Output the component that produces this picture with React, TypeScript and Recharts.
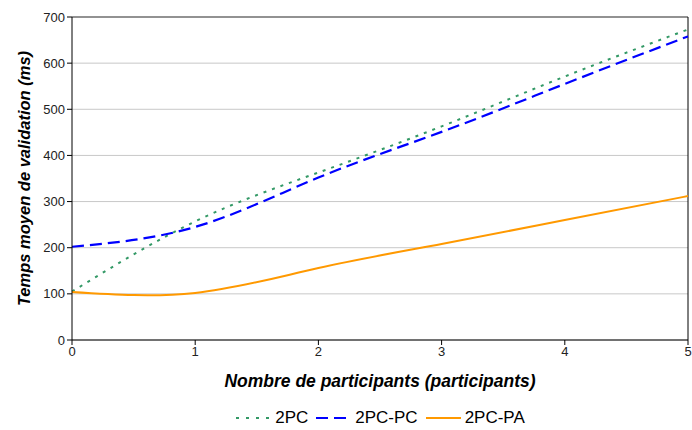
import React from 'react';
import { LineChart, Line, XAxis, YAxis, CartesianGrid, Legend, ReferenceLine } from 'recharts';

const participants = [0, 1, 2, 3, 4, 5];
const series2PC = [105, 257, 363, 463, 571, 673];
const series2PCPC = [202, 245, 352, 451, 555, 658];
const series2PCPA = [104, 102, 156, 208, 260, 312];
const xTicks = [0, 1, 2, 3, 4, 5];
const yTicks = [0, 100, 200, 300, 400, 500, 600, 700];
const seriesNames = ['2PC', '2PC-PC', '2PC-PA'];
const xLabel = 'Nombre de participants (participants)';
const yLabel = 'Temps moyen de validation (ms)';

const data = participants.map((p, i) => ({
  x: p,
  a: series2PC[i],
  b: series2PCPC[i],
  c: series2PCPA[i],
}));

const styles = [
  { key: 'a', color: '#339966', dash: '3 6', width: 2 },
  { key: 'b', color: '#0000ff', dash: '12 6', width: 2.2 },
  { key: 'c', color: '#ff9900', dash: undefined as string | undefined, width: 2 },
];

const FONT = '"Liberation Sans", Arial, sans-serif';

const LegendContent = () => (
  <div style={{ display: 'flex', justifyContent: 'center', alignItems: 'center', fontFamily: FONT, fontSize: 17, color: '#000', lineHeight: '20px' }}>
    {seriesNames.map((n, i) => (
      <div key={n} style={{ display: 'flex', alignItems: 'center', marginRight: i < seriesNames.length - 1 ? 7 : 0 }}>
        <svg width={37} height={10} style={{ marginRight: 3 }}>
          <line x1={1} y1={5} x2={36} y2={5} stroke={styles[i].color} strokeWidth={2} strokeDasharray={styles[i].dash === '3 6' ? '3 7' : styles[i].dash} />
        </svg>
        <span>{n}</span>
      </div>
    ))}
  </div>
);

export default function App() {
  return (
    <div style={{ position: 'absolute', left: 0, top: 0, width: 692, height: 430, background: '#fff' }}>
      <LineChart width={692} height={430} data={data} margin={{ top: 17, right: 4, left: 0, bottom: 40 }}>
        <CartesianGrid vertical={false} stroke="#c8c8c8" />
        <XAxis
          dataKey="x"
          type="number"
          domain={[0, 5]}
          ticks={xTicks}
          height={50}
          tickSize={5}
          stroke="#000"
          tick={{ fill: '#222', fontSize: 13, fontFamily: FONT }}
          label={{ value: xLabel, position: 'insideBottom', offset: 3, style: { fontFamily: FONT, fontSize: 17.5, fontWeight: 'bold', fontStyle: 'italic', fill: '#000' } }}
        />
        <YAxis
          type="number"
          domain={[0, 700]}
          ticks={yTicks}
          width={72}
          tickSize={5}
          stroke="#000"
          tick={{ fill: '#222', fontSize: 13, fontFamily: FONT }}
          label={{ value: yLabel, angle: -90, position: 'insideLeft', offset: 24, style: { textAnchor: 'middle', fontFamily: FONT, fontSize: 16.5, fontWeight: 'bold', fontStyle: 'italic', fill: '#000' } }}
        />
        <ReferenceLine y={700} stroke="#777" strokeWidth={1.5} />
        <ReferenceLine x={5} stroke="#000" />
        {styles.map((s, i) => (
          <Line
            key={s.key}
            dataKey={s.key}
            name={seriesNames[i]}
            type="natural"
            stroke={s.color}
            strokeWidth={s.width}
            strokeDasharray={s.dash}
            dot={false}
            activeDot={false}
            isAnimationActive={false}
          />
        ))}
        <Legend
          layout="horizontal"
          verticalAlign="middle"
          align="center"
          content={<LegendContent />}
          wrapperStyle={{ top: 408, left: 72, width: 616 }}
        />
      </LineChart>
    </div>
  );
}
